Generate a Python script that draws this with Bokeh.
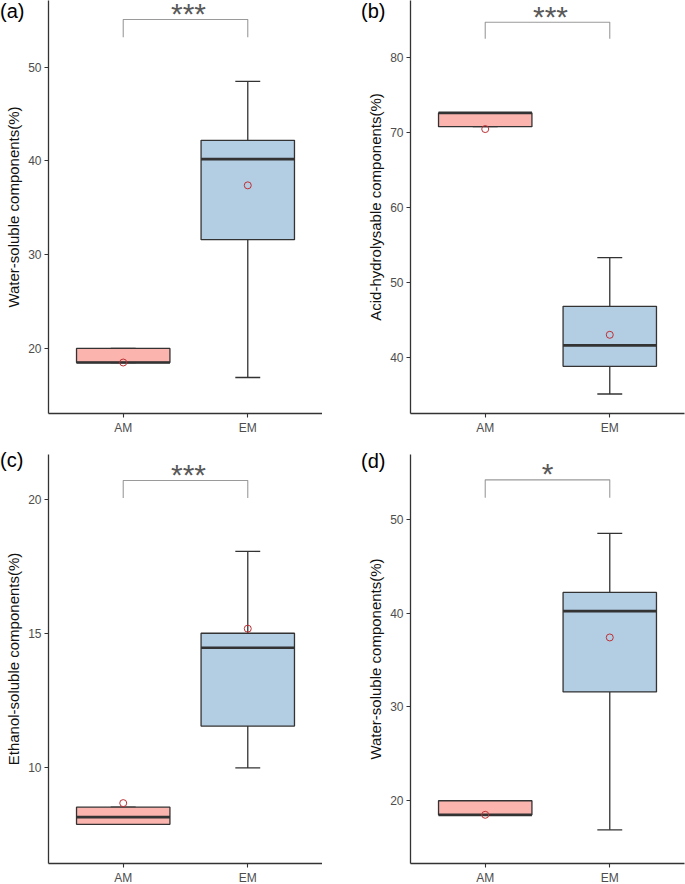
from bokeh.plotting import figure
from bokeh.models import Range1d, FixedTicker, ColumnDataSource, Div
from bokeh.layouts import column, row
from bokeh.embed import file_html
from bokeh.resources import INLINE
from bokeh.core.properties import value

categories = ["AM", "EM"]

# (a) Water-soluble components
a_lower = [18.5, 16.9]
a_q1 = [18.5, 31.6]
a_median = [18.5, 40.2]
a_q3 = [20.0, 42.2]
a_upper = [20.0, 48.5]
a_mean = [18.5, 37.4]
a_ticks = [20, 30, 40, 50]
a_sig = "***"

# (b) Acid-hydrolysable components
b_lower = [70.76, 35.1]
b_q1 = [70.76, 38.8]
b_median = [72.6, 41.6]
b_q3 = [72.6, 46.8]
b_upper = [72.6, 53.3]
b_mean = [70.45, 43.0]
b_ticks = [40, 50, 60, 70, 80]
b_sig = "***"

# (c) Ethanol-soluble components
c_lower = [7.90, 10.0]
c_q1 = [7.90, 11.56]
c_median = [8.17, 14.48]
c_q3 = [8.54, 15.02]
c_upper = [8.54, 18.07]
c_mean = [8.69, 15.19]
c_ticks = [10, 15, 20]
c_sig = "***"

# (d) Water-soluble components
d_lower = [18.5, 16.9]
d_q1 = [18.5, 31.6]
d_median = [18.5, 40.2]
d_q3 = [20.0, 42.2]
d_upper = [20.0, 48.5]
d_mean = [18.5, 37.4]
d_ticks = [20, 30, 40, 50]
d_sig = "*"

fills = ["#FBB4AE", "#B3CDE3"]

FW = 274
SANS = "Liberation Sans"


def panel(ylabel, lower, q1, med, q3, upper, mean, ticks, sig,
          yr, br_top, br_bot, left, right, top, bottom, fh):
    xs = [i + 1 for i in range(len(categories))]
    p = figure(frame_width=FW, frame_height=fh,
               x_range=Range1d(0.4, len(categories) + 0.6),
               y_range=Range1d(*yr),
               output_backend="svg", toolbar_location=None,
               min_border_left=left, min_border_right=right,
               min_border_top=top, min_border_bottom=bottom)
    p.outline_line_color = None
    p.grid.visible = False
    p.background_fill_color = "white"

    src = ColumnDataSource(dict(x=xs, lower=lower, q1=q1, med=med, q3=q3,
                                upper=upper, mean=mean, fill=fills,
                                cl=[x - 0.1 for x in xs], cr=[x + 0.1 for x in xs],
                                bl=[x - 0.375 for x in xs], br=[x + 0.375 for x in xs]))
    lc = "#333333"
    # whiskers
    p.segment(x0="x", y0="q3", x1="x", y1="upper", source=src, line_color=lc, line_width=1.3)
    p.segment(x0="x", y0="q1", x1="x", y1="lower", source=src, line_color=lc, line_width=1.3)
    p.segment(x0="cl", y0="upper", x1="cr", y1="upper", source=src, line_color=lc, line_width=1.3)
    p.segment(x0="cl", y0="lower", x1="cr", y1="lower", source=src, line_color=lc, line_width=1.3)
    # box
    p.quad(left="bl", right="br", bottom="q1", top="q3", source=src,
           fill_color="fill", line_color=lc, line_width=1.3)
    p.segment(x0="bl", y0="med", x1="br", y1="med", source=src, line_color=lc, line_width=2.7)
    # mean
    p.scatter(x="x", y="mean", source=src, marker="circle", size=7,
              fill_color=None, line_color="#BE3035", line_width=1)

    # significance bracket
    x1, x2 = xs[0], xs[-1]
    p.line(x=[x1, x1, x2, x2], y=[br_bot, br_top, br_top, br_bot],
           line_color="#9A9A9A", line_width=1.1)
    p.text(x=[(x1 + x2) / 2], y=[br_top], text=[sig], text_align="center",
           text_baseline="middle", text_font=value(SANS), text_font_size="30px",
           text_color="#595959", x_offset=3 if len(sig) > 1 else 0, y_offset=-6)

    # axes
    for ax in (p.xaxis[0], p.yaxis[0]):
        ax.axis_line_color = "#333333"
        ax.axis_line_width = 1.3
        ax.major_tick_line_color = "#333333"
        ax.major_tick_line_width = 1.1
        ax.major_tick_out = 4
        ax.major_tick_in = 0
        ax.minor_tick_line_color = None
        ax.major_label_text_font = SANS
        ax.major_label_text_font_size = "12px"
        ax.major_label_text_color = "#4D4D4D"
        ax.major_label_standoff = 3
    p.xaxis.ticker = FixedTicker(ticks=xs)
    p.xaxis.major_label_overrides = {x: c for x, c in zip(xs, categories)}
    p.yaxis.ticker = FixedTicker(ticks=ticks)
    p.yaxis.axis_label = ylabel
    p.yaxis.axis_label_text_font = SANS
    p.yaxis.axis_label_text_font_size = "15px"
    p.yaxis.axis_label_text_font_style = "normal"
    p.yaxis.axis_label_text_color = "#111111"
    p.yaxis.axis_label_standoff = 3
    return p


def tag(text, left, top):
    return Div(text=text, styles={"position": "absolute", "left": f"{left}px", "top": f"{top}px",
                                  "font-family": "Liberation Sans", "font-size": "20px",
                                  "line-height": "normal", "color": "black", "z-index": "10",
                                  "margin": "0", "padding": "0"})


pa = panel("Water-soluble components(%)", a_lower, a_q1, a_median, a_q3, a_upper, a_mean,
           a_ticks, a_sig, (13.06, 57.12), 55.1, 53.2, 48, 0, 0, 41, 413)
pb = panel("Acid-hydrolysable components(%)", b_lower, b_q1, b_median, b_q3, b_upper, b_mean,
           b_ticks, b_sig, (32.5, 87.6), 84.7, 82.5, 88, 1, 0, 41, 413)
pc = panel("Ethanol-soluble components(%)", c_lower, c_q1, c_median, c_q3, c_upper, c_mean,
           c_ticks, c_sig, (6.44, 21.68), 20.71, 20.06, 48, 0, 0, 18, 409)
pd = panel("Water-soluble components(%)", d_lower, d_q1, d_median, d_q3, d_upper, d_mean,
           d_ticks, d_sig, (13.31, 56.9), 54.2, 52.3, 88, 1, 0, 18, 409)

layout = column(tag("(a)", 0, 0), tag("(b)", 361, 0), tag("(c)", 0, 449), tag("(d)", 361, 450),
                row(pa, pb), row(pc, pd))
open("out.html", "w").write(file_html(layout, INLINE))
